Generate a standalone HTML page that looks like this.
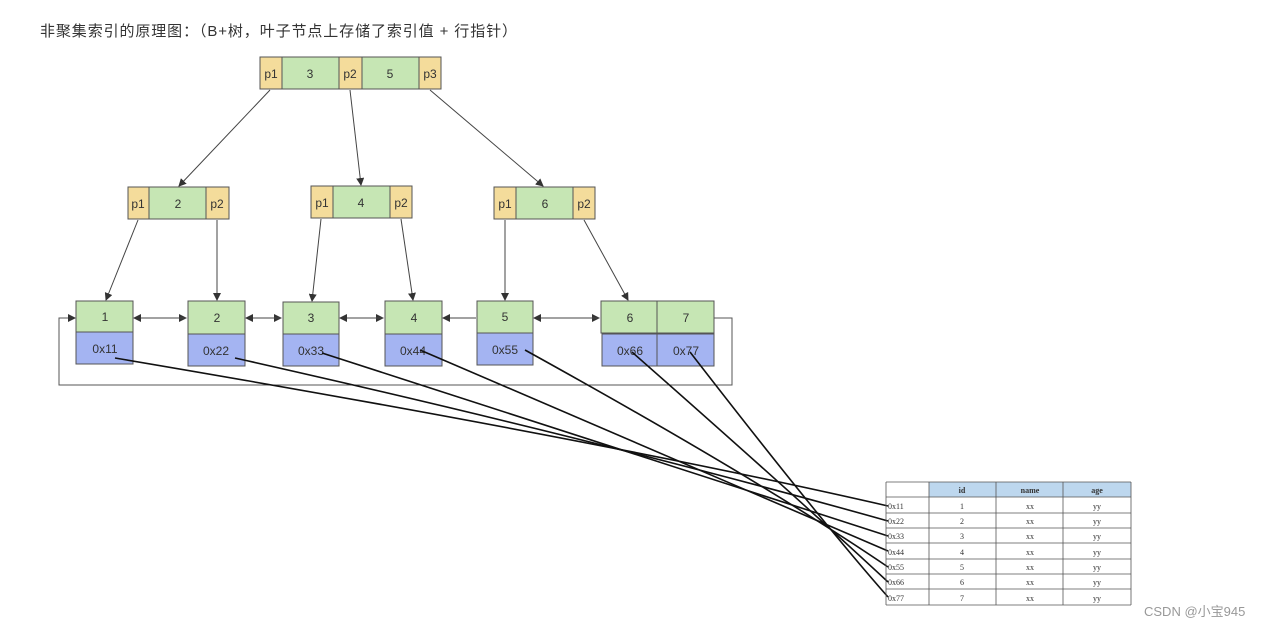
<!DOCTYPE html>
<html><head><meta charset="utf-8"><style>
body{margin:0;width:1272px;height:627px;background:#fff;overflow:hidden}
svg{position:absolute;left:0;top:0}
text{font-family:"Liberation Sans","Noto Sans CJK SC",sans-serif;fill:#333}
.t text{font-family:"Liberation Serif",serif;font-size:8px;fill:#333}
</style></head><body>
<svg width="1272" height="627" viewBox="0 0 1272 627">
<defs><marker id="a" markerWidth="8" markerHeight="8" refX="7" refY="4" orient="auto" markerUnits="userSpaceOnUse"><path d="M0,0L8,4L0,8z" fill="#333"/></marker></defs>
<text x="40" y="36" font-size="15" textLength="477" lengthAdjust="spacing">非聚集索引的原理图：（B+树，叶子节点上存储了索引值 + 行指针）</text>
<g stroke="#444" stroke-width="1">
<line x1="270" y1="90" x2="179" y2="186" marker-end="url(#a)"/>
<line x1="350" y1="90" x2="361" y2="185" marker-end="url(#a)"/>
<line x1="430" y1="90" x2="543" y2="186" marker-end="url(#a)"/>
<line x1="138" y1="220" x2="106" y2="300" marker-end="url(#a)"/>
<line x1="217" y1="220" x2="217" y2="300" marker-end="url(#a)"/>
<line x1="321" y1="219" x2="312" y2="301" marker-end="url(#a)"/>
<line x1="401" y1="219" x2="413" y2="300" marker-end="url(#a)"/>
<line x1="505" y1="220" x2="505" y2="300" marker-end="url(#a)"/>
<line x1="584" y1="220" x2="628" y2="300" marker-end="url(#a)"/>
<line x1="136" y1="318" x2="186" y2="318" marker-end="url(#a)"/><line x1="186" y1="318" x2="134" y2="318" marker-end="url(#a)"/>
<line x1="247" y1="318" x2="281" y2="318" marker-end="url(#a)"/><line x1="281" y1="318" x2="246" y2="318" marker-end="url(#a)"/>
<line x1="341" y1="318" x2="383" y2="318" marker-end="url(#a)"/><line x1="383" y1="318" x2="340" y2="318" marker-end="url(#a)"/>
<line x1="476" y1="318" x2="443" y2="318" marker-end="url(#a)"/>
<line x1="535" y1="318" x2="599" y2="318" marker-end="url(#a)"/><line x1="599" y1="318" x2="534" y2="318" marker-end="url(#a)"/>
<polyline points="714,318 732,318 732,385 59,385 59,318 75,318" fill="none" stroke="#555" marker-end="url(#a)"/>
</g>
<g stroke="#555" stroke-width="1" font-size="12">
<rect x="260" y="57" width="22" height="32" fill="#f4dc9b"/><rect x="282" y="57" width="57" height="32" fill="#c6e6b4"/><rect x="339" y="57" width="23" height="32" fill="#f4dc9b"/><rect x="362" y="57" width="57" height="32" fill="#c6e6b4"/><rect x="419" y="57" width="22" height="32" fill="#f4dc9b"/>
<rect x="128" y="187" width="21" height="32" fill="#f4dc9b"/><rect x="149" y="187" width="57" height="32" fill="#c6e6b4"/><rect x="206" y="187" width="23" height="32" fill="#f4dc9b"/>
<rect x="311" y="186" width="22" height="32" fill="#f4dc9b"/><rect x="333" y="186" width="57" height="32" fill="#c6e6b4"/><rect x="390" y="186" width="22" height="32" fill="#f4dc9b"/>
<rect x="494" y="187" width="22" height="32" fill="#f4dc9b"/><rect x="516" y="187" width="57" height="32" fill="#c6e6b4"/><rect x="573" y="187" width="22" height="32" fill="#f4dc9b"/>
<rect x="76" y="301" width="57" height="31" fill="#c6e6b4"/><rect x="76" y="332" width="57" height="32" fill="#a4b4f2"/>
<rect x="188" y="301" width="57" height="33" fill="#c6e6b4"/><rect x="188" y="334" width="57" height="32" fill="#a4b4f2"/>
<rect x="283" y="302" width="56" height="32" fill="#c6e6b4"/><rect x="283" y="334" width="56" height="32" fill="#a4b4f2"/>
<rect x="385" y="301" width="57" height="33" fill="#c6e6b4"/><rect x="385" y="334" width="57" height="32" fill="#a4b4f2"/>
<rect x="477" y="301" width="56" height="32" fill="#c6e6b4"/><rect x="477" y="333" width="56" height="32" fill="#a4b4f2"/>
<rect x="601" y="301" width="56" height="32" fill="#c6e6b4"/><rect x="602" y="334" width="55" height="32" fill="#a4b4f2"/>
<rect x="657" y="301" width="57" height="32" fill="#c6e6b4"/><rect x="657" y="334" width="57" height="32" fill="#a4b4f2"/>
</g>
<g font-size="12" text-anchor="middle">
<text x="271" y="78">p1</text><text x="310" y="78">3</text><text x="350" y="78">p2</text><text x="390" y="78">5</text><text x="430" y="78">p3</text>
<text x="138" y="208">p1</text><text x="178" y="208">2</text><text x="217" y="208">p2</text>
<text x="322" y="207">p1</text><text x="361" y="207">4</text><text x="401" y="207">p2</text>
<text x="505" y="208">p1</text><text x="545" y="208">6</text><text x="584" y="208">p2</text>
<text x="105" y="321">1</text><text x="217" y="322">2</text><text x="311" y="322">3</text><text x="414" y="322">4</text><text x="505" y="321">5</text><text x="630" y="322">6</text><text x="686" y="322">7</text>
<text x="105" y="353">0x11</text><text x="216" y="355">0x22</text><text x="311" y="355">0x33</text><text x="413" y="355">0x44</text><text x="505" y="354">0x55</text><text x="630" y="355">0x66</text><text x="686" y="355">0x77</text>
</g>
<g stroke="#111" stroke-width="1.6" fill="none">
<path d="M115,358 Q600,440 888,506"/>
<path d="M235,358 Q600,440 888,521"/>
<path d="M322,353 Q650,460 888,536"/>
<path d="M420,350 Q700,470 888,551"/>
<path d="M525,350 Q760,480 888,567"/>
<path d="M632,352 Q800,500 888,582"/>
<path d="M690,352 Q820,520 888,597"/>
</g>
<g class="t">
<rect x="929" y="482" width="202" height="15" fill="#bdd7ee"/>
<g stroke="#555" stroke-width="0.8">
<line x1="886" y1="482" x2="1131" y2="482"/>
<line x1="886" y1="497" x2="1131" y2="497"/><line x1="886" y1="513" x2="1131" y2="513"/><line x1="886" y1="528" x2="1131" y2="528"/><line x1="886" y1="543" x2="1131" y2="543"/><line x1="886" y1="559" x2="1131" y2="559"/><line x1="886" y1="574" x2="1131" y2="574"/><line x1="886" y1="589" x2="1131" y2="589"/><line x1="886" y1="605" x2="1131" y2="605"/>
<line x1="886" y1="482" x2="886" y2="605"/><line x1="929" y1="482" x2="929" y2="605"/><line x1="996" y1="482" x2="996" y2="605"/><line x1="1063" y1="482" x2="1063" y2="605"/><line x1="1131" y1="482" x2="1131" y2="605"/>
</g>
<g text-anchor="middle" font-weight="bold"><text x="962" y="493">id</text><text x="1030" y="493">name</text><text x="1097" y="493">age</text></g>
<g><text x="888" y="509">0x11</text><text x="888" y="524">0x22</text><text x="888" y="539">0x33</text><text x="888" y="555">0x44</text><text x="888" y="570">0x55</text><text x="888" y="585">0x66</text><text x="888" y="601">0x77</text></g>
<g text-anchor="middle">
<text x="962" y="509">1</text><text x="1030" y="509">xx</text><text x="1097" y="509">yy</text>
<text x="962" y="524">2</text><text x="1030" y="524">xx</text><text x="1097" y="524">yy</text>
<text x="962" y="539">3</text><text x="1030" y="539">xx</text><text x="1097" y="539">yy</text>
<text x="962" y="555">4</text><text x="1030" y="555">xx</text><text x="1097" y="555">yy</text>
<text x="962" y="570">5</text><text x="1030" y="570">xx</text><text x="1097" y="570">yy</text>
<text x="962" y="585">6</text><text x="1030" y="585">xx</text><text x="1097" y="585">yy</text>
<text x="962" y="601">7</text><text x="1030" y="601">xx</text><text x="1097" y="601">yy</text>
</g>
</g>
<text x="1144" y="616" font-size="13" style="fill:#999">CSDN @小宝945</text>
</svg>
</body></html>
